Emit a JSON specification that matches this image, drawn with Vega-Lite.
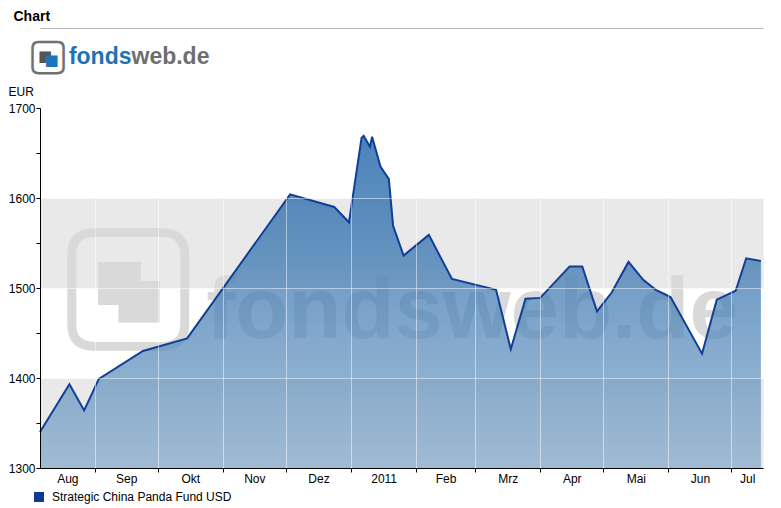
{
  "$schema": "https://vega.github.io/schema/vega-lite/v6.json",
  "autosize": {"type": "none"},
  "width": 723,
  "height": 360,
  "padding": {"left": 40, "top": 108, "right": 18, "bottom": 40},
  "background": "white",
  "config": {
    "view": {"stroke": null},
    "font": "Liberation Sans",
    "axis": {"labelFont": "Liberation Sans", "titleFont": "Liberation Sans"}
  },
  "data": {"values": [
    {"date": "2010-08-06", "value": 1340},
    {"date": "2010-08-20", "value": 1393},
    {"date": "2010-08-27", "value": 1364},
    {"date": "2010-09-03", "value": 1399},
    {"date": "2010-09-24", "value": 1430},
    {"date": "2010-10-15", "value": 1444},
    {"date": "2010-12-03", "value": 1604},
    {"date": "2010-12-24", "value": 1590},
    {"date": "2010-12-31", "value": 1573},
    {"date": "2011-01-06", "value": 1667},
    {"date": "2011-01-07", "value": 1669},
    {"date": "2011-01-10", "value": 1657},
    {"date": "2011-01-11", "value": 1668},
    {"date": "2011-01-15", "value": 1635},
    {"date": "2011-01-19", "value": 1621},
    {"date": "2011-01-21", "value": 1569},
    {"date": "2011-01-26", "value": 1536},
    {"date": "2011-02-07", "value": 1559},
    {"date": "2011-02-18", "value": 1510},
    {"date": "2011-03-11", "value": 1498},
    {"date": "2011-03-18", "value": 1432},
    {"date": "2011-03-25", "value": 1488},
    {"date": "2011-04-01", "value": 1489},
    {"date": "2011-04-15", "value": 1524},
    {"date": "2011-04-21", "value": 1524},
    {"date": "2011-04-28", "value": 1474},
    {"date": "2011-05-05", "value": 1495},
    {"date": "2011-05-13", "value": 1529},
    {"date": "2011-05-20", "value": 1509},
    {"date": "2011-05-26", "value": 1498},
    {"date": "2011-06-02", "value": 1490},
    {"date": "2011-06-17", "value": 1427},
    {"date": "2011-06-24", "value": 1487},
    {"date": "2011-07-03", "value": 1497},
    {"date": "2011-07-08", "value": 1533},
    {"date": "2011-07-15", "value": 1530}
  ]},
  "layer": [
    {
      "mark": {
        "type": "area",
        "fillOpacity": 0.72,
        "fill": {"gradient": "linear", "x1": 0, "y1": 0, "x2": 0, "y2": 1,
          "stops": [{"offset": 0, "color": "#04529f"}, {"offset": 1, "color": "#84a9ca"}]}
      },
      "encoding": {
        "x": {"field": "date", "type": "temporal",
          "scale": {"type": "utc", "domain": [{"year": 2010, "month": 8, "date": 6, "utc": true}, {"year": 2011, "month": 7, "date": 16, "utc": true}]},
          "axis": {
            "orient": "bottom", "title": null, "zindex": 1,
            "values": [
              {"year": 2010, "month": 8, "date": 19, "utc": true},
              {"year": 2010, "month": 9, "date": 1, "utc": true},
              {"year": 2010, "month": 9, "date": 16, "utc": true},
              {"year": 2010, "month": 10, "date": 1, "utc": true},
              {"year": 2010, "month": 10, "date": 16, "hours": 12, "utc": true},
              {"year": 2010, "month": 11, "date": 1, "utc": true},
              {"year": 2010, "month": 11, "date": 16, "utc": true},
              {"year": 2010, "month": 12, "date": 1, "utc": true},
              {"year": 2010, "month": 12, "date": 16, "hours": 12, "utc": true},
              {"year": 2011, "month": 1, "date": 1, "utc": true},
              {"year": 2011, "month": 1, "date": 16, "hours": 12, "utc": true},
              {"year": 2011, "month": 2, "date": 1, "utc": true},
              {"year": 2011, "month": 2, "date": 15, "utc": true},
              {"year": 2011, "month": 3, "date": 1, "utc": true},
              {"year": 2011, "month": 3, "date": 16, "hours": 12, "utc": true},
              {"year": 2011, "month": 4, "date": 1, "utc": true},
              {"year": 2011, "month": 4, "date": 16, "utc": true},
              {"year": 2011, "month": 5, "date": 1, "utc": true},
              {"year": 2011, "month": 5, "date": 16, "hours": 12, "utc": true},
              {"year": 2011, "month": 6, "date": 1, "utc": true},
              {"year": 2011, "month": 6, "date": 16, "utc": true},
              {"year": 2011, "month": 7, "date": 1, "utc": true},
              {"year": 2011, "month": 7, "date": 8, "hours": 12, "utc": true}
            ],
            "labelExpr": "utcdate(datum.value) == 1 ? '' : ['2011','Feb','Mrz','Apr','Mai','Jun','Jul','Aug','Sep','Okt','Nov','Dez'][utcmonth(datum.value)]",
            "labelFontSize": 12, "labelColor": "#000000", "labelPadding": 1,
            "labelOverlap": false, "labelFlush": false,
            "tickSize": 4, "tickColor": "#000000",
            "tickOpacity": {"condition": {"test": "utcdate(datum.value) == 1", "value": 1}, "value": 0},
            "grid": true, "gridColor": "#ffffff", "gridDash": [1, 1],
            "gridOpacity": {"condition": {"test": "utcdate(datum.value) == 1", "value": 1}, "value": 0},
            "domainColor": "#000000"
          }
        },
        "y": {"field": "value", "type": "quantitative",
          "scale": {"domain": [1300, 1700], "nice": false, "zero": false},
          "axis": {
            "orient": "left", "zindex": 1, "format": "d",
            "values": [1300, 1350, 1400, 1450, 1500, 1550, 1600, 1650, 1700],
            "labelExpr": "datum.value % 100 == 0 ? datum.label : ''",
            "labelFontSize": 12, "labelColor": "#000000", "labelPadding": 1,
            "tickSize": 4, "tickColor": "#000000", "domainColor": "#000000",
            "grid": true, "gridColor": "#ffffff", "gridDash": [1, 1],
            "gridOpacity": {"condition": {"test": "datum.value % 100 == 0", "value": 1}, "value": 0},
            "title": "EUR", "titleAngle": 0, "titleX": -32, "titleY": -13,
            "titleAlign": "left", "titleBaseline": "alphabetic",
            "titleFontSize": 12, "titleFontWeight": "normal", "titleColor": "#000000"
          }
        },
        "y2": {"datum": 1300}
      }
    },
    {
      "mark": {"type": "line", "strokeWidth": 2},
      "encoding": {
        "x": {"field": "date", "type": "temporal",
          "scale": {"type": "utc", "domain": [{"year": 2010, "month": 8, "date": 6, "utc": true}, {"year": 2011, "month": 7, "date": 16, "utc": true}]},
          "axis": null},
        "y": {"field": "value", "type": "quantitative",
          "scale": {"domain": [1300, 1700], "nice": false, "zero": false}, "axis": null},
        "color": {"datum": "Strategic China Panda Fund USD",
          "scale": {"range": ["#123e96"]},
          "legend": {"orient": "none", "legendX": -7, "legendY": 383, "title": null,
            "padding": 0, "symbolType": "square", "symbolSize": 100,
            "symbolFillColor": "#0d3a92", "symbolStrokeWidth": 0,
            "labelFontSize": 12, "labelColor": "#000000", "labelOffset": 7, "labelLimit": 400,
            "encode": {"symbols": {"update": {"fill": {"value": "#0d3a92"}, "strokeWidth": {"value": 0}}}}}
        }
      }
    },
    {
      "mark": {"type": "line", "opacity": 0},
      "encoding": {
        "x": {"field": "date", "type": "temporal",
          "scale": {"type": "utc", "domain": [{"year": 2010, "month": 8, "date": 6, "utc": true}, {"year": 2011, "month": 7, "date": 16, "utc": true}]},
          "axis": {"orient": "top", "offset": 80, "domain": true, "domainColor": "#b4b4b4", "labels": false, "ticks": false, "grid": false,
            "title": "Chart", "titleX": -27, "titleY": -8, "titleAlign": "left", "titleBaseline": "alphabetic",
            "titleFontSize": 14, "titleFontWeight": "bold", "titleColor": "#000000"}},
        "y": {"field": "value", "type": "quantitative",
          "scale": {"domain": [1300, 1700], "nice": false, "zero": false},
          "axis": {"orient": "right", "labels": false, "ticks": false, "domain": false, "zindex": 0,
            "grid": true, "values": [1350, 1550], "gridColor": "#e9e9e9", "gridWidth": 90, "gridOpacity": 1,
            "title": "▢", "titleFont": "DejaVu Sans", "titleFontSize": 44, "titleFontWeight": "bold", "titleColor": "#717171",
            "titleAngle": 0, "titleAlign": "center", "titleBaseline": "middle", "titleX": -715.5, "titleY": -52.5}}
      }
    },
    {
      "mark": {"type": "line", "opacity": 0},
      "encoding": {
        "x": {"field": "date", "type": "temporal",
          "scale": {"type": "utc", "domain": [{"year": 2010, "month": 8, "date": 6, "utc": true}, {"year": 2011, "month": 7, "date": 16, "utc": true}]},
          "axis": {"orient": "top", "domain": false, "labels": false, "ticks": false, "grid": false,
            "title": "■", "titleFont": "DejaVu Sans", "titleFontSize": 15, "titleFontWeight": "normal", "titleColor": "#555555",
            "titleAlign": "center", "titleBaseline": "middle", "titleX": 4.5, "titleY": -53}},
        "y": {"field": "value", "type": "quantitative",
          "scale": {"domain": [1300, 1700], "nice": false, "zero": false},
          "axis": {"orient": "right", "labels": false, "ticks": false, "domain": false, "grid": false,
            "title": "■", "titleFont": "DejaVu Sans", "titleFontSize": 15, "titleFontWeight": "normal", "titleColor": "#1b75bc",
            "titleAngle": 0, "titleAlign": "center", "titleBaseline": "middle", "titleX": -712, "titleY": -49}}
      }
    },
    {
      "mark": {"type": "line", "opacity": 0},
      "encoding": {
        "x": {"field": "date", "type": "temporal",
          "scale": {"type": "utc", "domain": [{"year": 2010, "month": 8, "date": 6, "utc": true}, {"year": 2011, "month": 7, "date": 16, "utc": true}]},
          "axis": {"orient": "top", "domain": false, "labels": false, "ticks": false, "grid": false,
            "title": "fonds", "titleFont": "Liberation Sans", "titleFontSize": 23, "titleFontWeight": "bold", "titleColor": "#1f71b8",
            "titleAlign": "right", "titleBaseline": "alphabetic", "titleX": 91, "titleY": -44.5}},
        "y": {"field": "value", "type": "quantitative",
          "scale": {"domain": [1300, 1700], "nice": false, "zero": false},
          "axis": {"orient": "right", "labels": false, "ticks": false, "domain": false, "grid": false,
            "title": "web.de", "titleFont": "Liberation Sans", "titleFontSize": 23, "titleFontWeight": "bold", "titleColor": "#6d6e71",
            "titleAngle": 0, "titleAlign": "left", "titleBaseline": "alphabetic", "titleX": -632, "titleY": -44.5}}
      }
    },
    {
      "mark": {"type": "line", "opacity": 0},
      "encoding": {
        "x": {"field": "date", "type": "temporal",
          "scale": {"type": "utc", "domain": [{"year": 2010, "month": 8, "date": 6, "utc": true}, {"year": 2011, "month": 7, "date": 16, "utc": true}]},
          "axis": {"orient": "top", "domain": false, "labels": false, "ticks": false, "grid": false, "zindex": 0,
            "title": "fondsweb.de", "titleFont": "Liberation Sans", "titleFontSize": 87, "titleFontWeight": "bold", "titleColor": "#d9d9d9",
            "titleAlign": "center", "titleBaseline": "alphabetic", "titleX": 431.5, "titleY": 229}},
        "y": {"field": "value", "type": "quantitative",
          "scale": {"domain": [1300, 1700], "nice": false, "zero": false},
          "axis": {"orient": "right", "labels": false, "ticks": false, "domain": false, "grid": false, "zindex": 0,
            "title": "▢", "titleFont": "DejaVu Sans", "titleFontSize": 160, "titleFontWeight": "bold", "titleColor": "#d9d9d9",
            "titleAngle": 0, "titleAlign": "center", "titleBaseline": "middle", "titleX": -635, "titleY": 174}}
      }
    },
    {
      "mark": {"type": "line", "opacity": 0},
      "encoding": {
        "x": {"field": "date", "type": "temporal",
          "scale": {"type": "utc", "domain": [{"year": 2010, "month": 8, "date": 6, "utc": true}, {"year": 2011, "month": 7, "date": 16, "utc": true}]},
          "axis": {"orient": "top", "domain": false, "labels": false, "ticks": false, "grid": false, "zindex": 0,
            "title": "■", "titleFont": "DejaVu Sans", "titleFontSize": 56, "titleFontWeight": "normal", "titleColor": "#d9d9d9",
            "titleAlign": "center", "titleBaseline": "middle", "titleX": 79, "titleY": 172}},
        "y": {"field": "value", "type": "quantitative",
          "scale": {"domain": [1300, 1700], "nice": false, "zero": false},
          "axis": {"orient": "right", "labels": false, "ticks": false, "domain": false, "grid": false, "zindex": 0,
            "title": "■", "titleFont": "DejaVu Sans", "titleFontSize": 54, "titleFontWeight": "normal", "titleColor": "#d9d9d9",
            "titleAngle": 0, "titleAlign": "center", "titleBaseline": "middle", "titleX": -624.5, "titleY": 191.5}}
      }
    }
  ],
  "resolve": {"axis": {"x": "independent", "y": "independent"}}
}
